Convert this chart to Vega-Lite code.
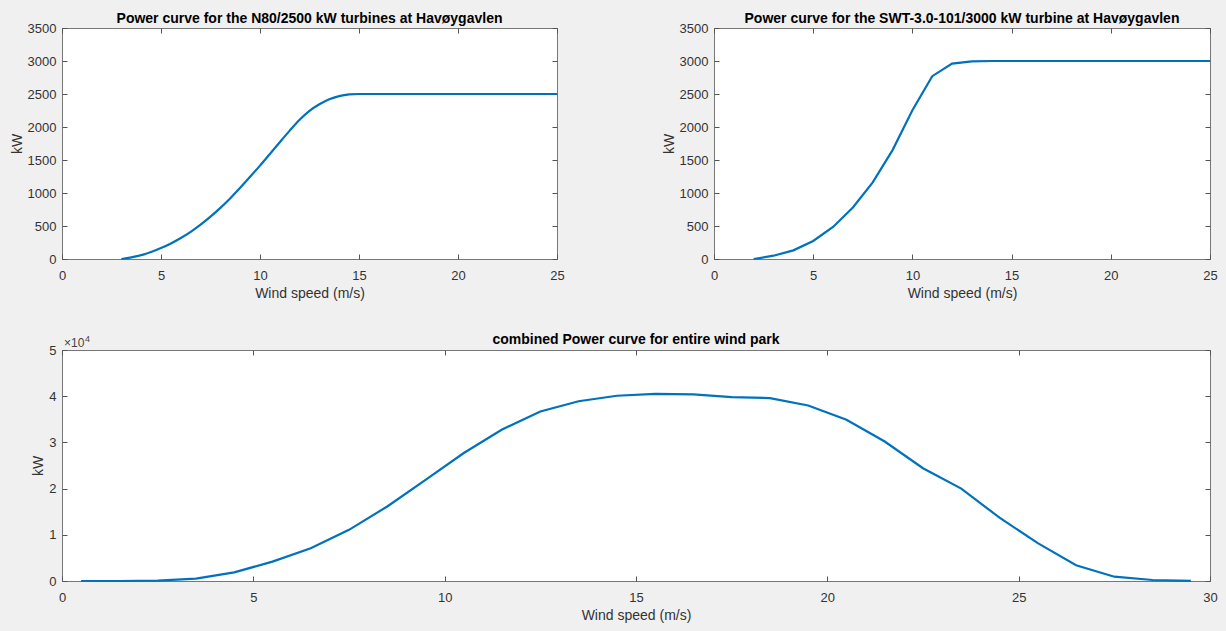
{
  "$schema": "https://vega.github.io/schema/vega-lite/v6.json",
  "background": "#f0f0f0",
  "padding": {"left": 9, "top": 11, "right": 8, "bottom": 10},
  "datasets": {
    "n80": [
      {"ws": 3, "kW": 0}, {"ws": 3.5, "kW": 25}, {"ws": 4, "kW": 58}, {"ws": 4.5, "kW": 105},
      {"ws": 5, "kW": 165}, {"ws": 5.5, "kW": 235}, {"ws": 6, "kW": 318}, {"ws": 6.5, "kW": 412},
      {"ws": 7, "kW": 521}, {"ws": 7.5, "kW": 642}, {"ws": 8, "kW": 775}, {"ws": 8.5, "kW": 922},
      {"ws": 9, "kW": 1080}, {"ws": 9.5, "kW": 1245}, {"ws": 10, "kW": 1415}, {"ws": 10.5, "kW": 1592},
      {"ws": 11, "kW": 1770}, {"ws": 11.5, "kW": 1945}, {"ws": 12, "kW": 2110}, {"ws": 12.5, "kW": 2245},
      {"ws": 13, "kW": 2345}, {"ws": 13.5, "kW": 2420}, {"ws": 14, "kW": 2468}, {"ws": 14.5, "kW": 2493},
      {"ws": 15, "kW": 2500}, {"ws": 16, "kW": 2500}, {"ws": 17, "kW": 2500}, {"ws": 18, "kW": 2500},
      {"ws": 19, "kW": 2500}, {"ws": 20, "kW": 2500}, {"ws": 21, "kW": 2500}, {"ws": 22, "kW": 2500},
      {"ws": 23, "kW": 2500}, {"ws": 24, "kW": 2500}, {"ws": 25, "kW": 2500}
    ],
    "swt": [
      {"ws": 2, "kW": 0}, {"ws": 3, "kW": 50}, {"ws": 4, "kW": 131}, {"ws": 5, "kW": 273},
      {"ws": 6, "kW": 485}, {"ws": 7, "kW": 780}, {"ws": 8, "kW": 1160}, {"ws": 9, "kW": 1650},
      {"ws": 10, "kW": 2255}, {"ws": 11, "kW": 2770}, {"ws": 12, "kW": 2960}, {"ws": 13, "kW": 2995},
      {"ws": 14, "kW": 3000}, {"ws": 15, "kW": 3000}, {"ws": 16, "kW": 3000}, {"ws": 17, "kW": 3000},
      {"ws": 18, "kW": 3000}, {"ws": 19, "kW": 3000}, {"ws": 20, "kW": 3000}, {"ws": 21, "kW": 3000},
      {"ws": 22, "kW": 3000}, {"ws": 23, "kW": 3000}, {"ws": 24, "kW": 3000}, {"ws": 25, "kW": 3000}
    ],
    "park": [
      {"ws": 0.5, "kW": 0}, {"ws": 1.5, "kW": 0}, {"ws": 2.5, "kW": 100}, {"ws": 3.5, "kW": 500},
      {"ws": 4.5, "kW": 1870}, {"ws": 5.5, "kW": 4190}, {"ws": 6.5, "kW": 7080}, {"ws": 7.5, "kW": 11070},
      {"ws": 8.5, "kW": 16130}, {"ws": 9.5, "kW": 21900}, {"ws": 10.5, "kW": 27700}, {"ws": 11.5, "kW": 32800},
      {"ws": 12.5, "kW": 36700}, {"ws": 13.5, "kW": 38900}, {"ws": 14.5, "kW": 40100}, {"ws": 15.5, "kW": 40500},
      {"ws": 16.5, "kW": 40400}, {"ws": 17.5, "kW": 39800}, {"ws": 18.5, "kW": 39600}, {"ws": 19.5, "kW": 38000},
      {"ws": 20.5, "kW": 34900}, {"ws": 21.5, "kW": 30200}, {"ws": 22.5, "kW": 24400}, {"ws": 23.5, "kW": 20000},
      {"ws": 24.5, "kW": 13700}, {"ws": 25.5, "kW": 8200}, {"ws": 26.5, "kW": 3400}, {"ws": 27.5, "kW": 930},
      {"ws": 28.5, "kW": 220}, {"ws": 29.5, "kW": 30}
    ],
    "expoBase": [{"ws": 0, "kW": 50000, "label": "×10"}],
    "expoPow": [{"ws": 0, "kW": 50000, "label": "4"}]
  },
  "spacing": 31,
  "vconcat": [
    {
      "bounds": "flush",
      "spacing": 157,
      "hconcat": [
        {
          "width": 495, "height": 231,
          "title": {"text": "Power curve for the N80/2500 kW turbines at Havøygavlen", "offset": -4},
          "data": {"name": "n80"},
          "layer": [
            {
              "mark": {"type": "line", "color": "#0072BD", "strokeWidth": 2.2, "interpolate": "monotone"},
              "encoding": {
                "x": {"field": "ws", "type": "quantitative", "scale": {"domain": [0, 25], "nice": false},
                      "axis": {"title": "Wind speed (m/s)", "values": [0, 5, 10, 15, 20, 25]}},
                "y": {"field": "kW", "type": "quantitative", "scale": {"domain": [0, 3500], "nice": false},
                      "axis": {"title": "kW", "format": "d", "values": [0, 500, 1000, 1500, 2000, 2500, 3000, 3500]}}
              }
            },
            {
              "mark": {"type": "line", "opacity": 0},
              "encoding": {
                "x": {"field": "ws", "type": "quantitative", "scale": {"domain": [0, 25], "nice": false},
                      "axis": {"orient": "top", "labels": false, "title": null, "values": [0, 5, 10, 15, 20, 25]}},
                "y": {"field": "kW", "type": "quantitative", "scale": {"domain": [0, 3500], "nice": false},
                      "axis": {"orient": "right", "labels": false, "title": null, "values": [0, 500, 1000, 1500, 2000, 2500, 3000, 3500]}}
              }
            }
          ],
          "resolve": {"scale": {"x": "independent", "y": "independent"}}
        },
        {
          "width": 496, "height": 231,
          "title": {"text": "Power curve for the SWT-3.0-101/3000 kW turbine at Havøygavlen", "offset": -4},
          "data": {"name": "swt"},
          "layer": [
            {
              "mark": {"type": "line", "color": "#0072BD", "strokeWidth": 2.2},
              "encoding": {
                "x": {"field": "ws", "type": "quantitative", "scale": {"domain": [0, 25], "nice": false},
                      "axis": {"title": "Wind speed (m/s)", "values": [0, 5, 10, 15, 20, 25]}},
                "y": {"field": "kW", "type": "quantitative", "scale": {"domain": [0, 3500], "nice": false},
                      "axis": {"title": "kW", "format": "d", "values": [0, 500, 1000, 1500, 2000, 2500, 3000, 3500]}}
              }
            },
            {
              "mark": {"type": "line", "opacity": 0},
              "encoding": {
                "x": {"field": "ws", "type": "quantitative", "scale": {"domain": [0, 25], "nice": false},
                      "axis": {"orient": "top", "labels": false, "title": null, "values": [0, 5, 10, 15, 20, 25]}},
                "y": {"field": "kW", "type": "quantitative", "scale": {"domain": [0, 3500], "nice": false},
                      "axis": {"orient": "right", "labels": false, "title": null, "values": [0, 500, 1000, 1500, 2000, 2500, 3000, 3500]}}
              }
            }
          ],
          "resolve": {"scale": {"x": "independent", "y": "independent"}}
        }
      ]
    },
    {
      "width": 1148, "height": 231,
      "title": {"text": "combined Power curve for entire wind park", "offset": -12},
      "layer": [
        {
          "data": {"name": "park"},
          "mark": {"type": "line", "color": "#0072BD", "strokeWidth": 2.2},
          "encoding": {
            "x": {"field": "ws", "type": "quantitative", "scale": {"domain": [0, 30], "nice": false},
                  "axis": {"title": "Wind speed (m/s)", "values": [0, 5, 10, 15, 20, 25, 30]}},
            "y": {"field": "kW", "type": "quantitative", "scale": {"domain": [0, 50000], "nice": false},
                  "axis": {"title": "kW", "values": [0, 10000, 20000, 30000, 40000, 50000], "labelExpr": "datum.value / 10000"}}
          }
        },
        {
          "data": {"name": "park"},
          "mark": {"type": "line", "opacity": 0},
          "encoding": {
            "x": {"field": "ws", "type": "quantitative", "scale": {"domain": [0, 30], "nice": false},
                  "axis": {"orient": "top", "labels": false, "title": null, "values": [0, 5, 10, 15, 20, 25, 30]}},
            "y": {"field": "kW", "type": "quantitative", "scale": {"domain": [0, 50000], "nice": false},
                  "axis": {"orient": "right", "labels": false, "title": null, "values": [0, 10000, 20000, 30000, 40000, 50000]}}
          }
        },
        {
          "data": {"name": "expoBase"},
          "mark": {"type": "text", "align": "left", "baseline": "alphabetic", "dx": 2, "dy": -3, "fontSize": 12, "font": "Liberation Sans", "color": "#444444"},
          "encoding": {
            "x": {"field": "ws", "type": "quantitative", "scale": {"domain": [0, 30], "nice": false}, "axis": null},
            "y": {"field": "kW", "type": "quantitative", "scale": {"domain": [0, 50000], "nice": false}, "axis": null},
            "text": {"field": "label"}
          }
        },
        {
          "data": {"name": "expoPow"},
          "mark": {"type": "text", "align": "left", "baseline": "alphabetic", "dx": 23, "dy": -8, "fontSize": 9, "font": "Liberation Sans", "color": "#444444"},
          "encoding": {
            "x": {"field": "ws", "type": "quantitative", "scale": {"domain": [0, 30], "nice": false}, "axis": null},
            "y": {"field": "kW", "type": "quantitative", "scale": {"domain": [0, 50000], "nice": false}, "axis": null},
            "text": {"field": "label"}
          }
        }
      ],
      "resolve": {"scale": {"x": "independent", "y": "independent"}}
    }
  ],
  "config": {
    "view": {"stroke": "#777777", "strokeWidth": 1, "fill": "white"},
    "axis": {
      "labelFont": "Liberation Sans", "labelFontSize": 13, "labelColor": "#333333",
      "titleFont": "Liberation Sans", "titleFontSize": 14, "titleFontWeight": "normal", "titleColor": "#333333",
      "domain": false, "grid": false, "tickColor": "#555555", "tickSize": -5, "tickWidth": 1,
      "labelFlush": false, "labelOverlap": false
    },
    "axisX": {"labelPadding": 15, "titlePadding": 4},
    "axisY": {"labelPadding": 11, "titlePadding": 3},
    "title": {"font": "Liberation Sans", "fontSize": 14, "fontWeight": "bold", "color": "#000000", "baseline": "alphabetic", "anchor": "middle", "frame": "group"}
  }
}
